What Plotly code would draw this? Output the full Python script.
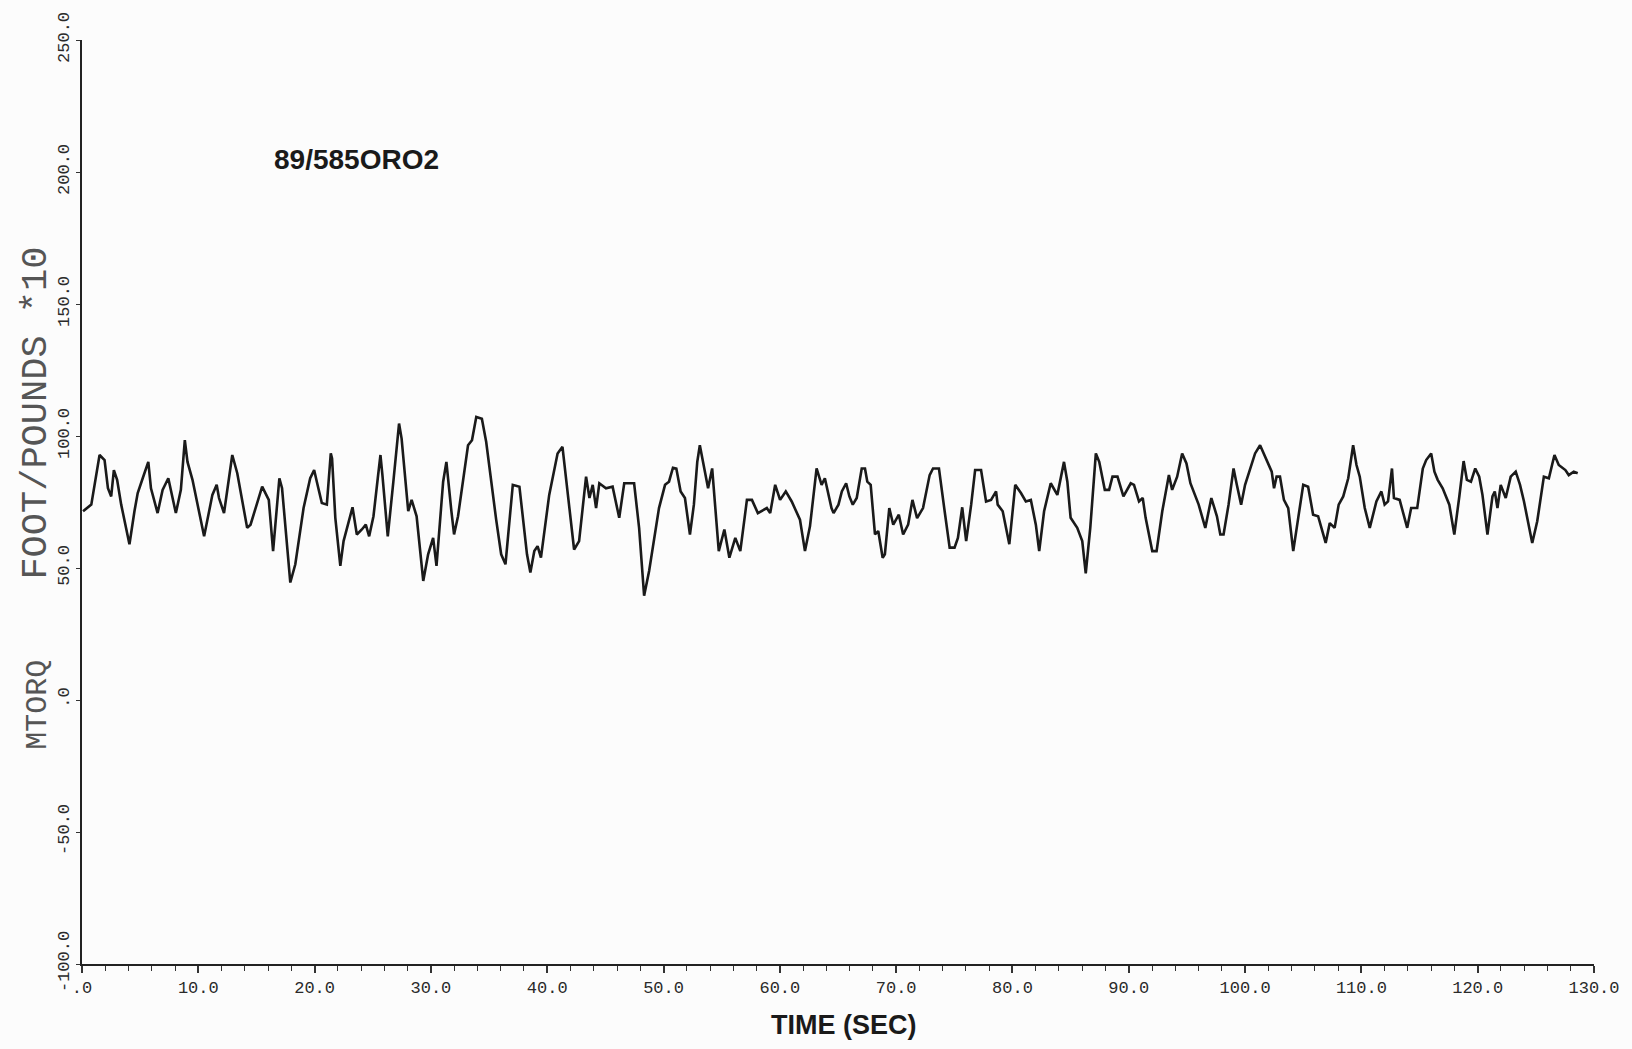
import plotly.graph_objects as go

# ---- data (time in seconds, torque in foot/pounds x10) ----
time_s = [
    0.09, 0.80, 1.51, 1.94, 2.23, 2.51, 2.74, 3.02, 3.37, 4.08, 4.51, 4.79, 5.22, 5.70, 5.93,
    6.50, 6.93, 7.42, 8.07, 8.50, 8.84, 9.07, 9.50, 10.5, 11.21, 11.58, 11.78, 12.21, 12.92,
    13.35, 14.2, 14.49, 15.49, 16.06, 16.43, 16.71, 16.97, 17.2, 17.91, 18.34, 19.05, 19.62,
    19.96, 20.19, 20.62, 21.05, 21.39, 21.5, 21.78, 22.21, 22.49, 23.26, 23.63, 24.06, 24.4,
    24.69, 25.06, 25.43, 25.66, 25.83, 26.11, 26.29, 26.77, 27.26, 27.48, 28.05, 28.34, 28.77,
    29.34, 29.76, 30.19, 30.48, 31.05, 31.33, 31.76, 31.99, 32.33, 32.9, 33.19, 33.53, 33.9,
    34.38, 34.75, 35.61, 36.04, 36.41, 37.04, 37.61, 38.03, 38.26, 38.55, 38.89, 39.17, 39.46,
    40.17, 40.6, 40.89, 41.31, 41.6, 42.31, 42.74, 43.34, 43.63, 43.91, 44.2, 44.48, 45.05,
    45.62, 46.19, 46.62, 47.47, 47.9, 48.33, 48.76, 49.61, 50.13, 50.47, 50.81, 51.1, 51.47,
    51.84, 52.27, 52.61, 52.9, 53.12, 53.55, 53.83, 54.18, 54.75, 55.23, 55.66, 56.17, 56.6,
    57.17, 57.6, 58.11, 58.88, 59.17, 59.6, 60.02, 60.51, 61.02, 61.73, 62.16, 62.59, 63.16,
    63.59, 63.87, 64.44, 64.62, 65.04, 65.33, 65.7, 65.98, 66.27, 66.61, 67.04, 67.32, 67.52,
    67.81, 68.18, 68.46, 68.84, 69.03, 69.41, 69.75, 70.23, 70.6, 71.03, 71.4, 71.8, 72.31,
    72.88, 73.17, 73.68, 74.17, 74.6, 75.02, 75.31, 75.68, 76.02, 76.45, 76.79, 77.3, 77.73,
    78.16, 78.59, 78.73, 79.16, 79.73, 80.24, 80.73, 81.15, 81.58, 82.01, 82.3, 82.72, 83.29,
    83.86, 84.43, 84.72, 85.0, 85.57, 86.0, 86.3, 86.69, 87.17, 87.46, 87.94, 88.31, 88.6,
    89.03, 89.54, 90.17, 90.45, 90.88, 91.2, 91.45, 92.02, 92.39, 92.88, 93.45, 93.73, 94.16,
    94.59, 94.96, 95.3, 96.01, 96.58, 97.1, 97.58, 97.87, 98.15, 98.58, 99.01, 99.29, 99.66,
    100.0, 100.43, 100.86, 101.29, 101.72, 102.29, 102.49, 102.71, 103.0, 103.34, 103.71,
    104.14, 104.57, 105.0, 105.42, 105.85, 106.28, 106.93, 107.28, 107.7, 108.05, 108.44,
    108.87, 109.29, 109.58, 109.86, 110.29, 110.72, 111.29, 111.72, 112.0, 112.29, 112.63,
    112.8, 113.29, 113.66, 113.94, 114.28, 114.8, 115.28, 115.57, 116.0, 116.28, 116.56,
    116.99, 117.56, 117.99, 118.42, 118.79, 119.07, 119.42, 119.79, 120.13, 120.41, 120.84,
    121.27, 121.47, 121.7, 121.98, 122.41, 122.84, 123.27, 123.64, 123.98, 124.69, 125.12,
    125.69, 126.12, 126.6, 126.97, 127.54, 127.83, 128.26, 128.6,
]
mtorq = [
    71.5, 74, 92.8, 90.9, 80.2, 77.1, 87.1, 83.4, 74, 59, 71.5, 78.4, 84, 90.2, 80.2,
    70.8, 79.6, 84, 70.8, 79.6, 98.4, 90.2, 83.4, 62, 77.7, 81.5, 76.5, 70.8, 92.8,
    85.9, 65.2, 66.4, 80.8, 75.8, 56.4, 70.2, 84, 80.2, 44.5, 51.4, 72.7, 84,
    87.1, 82.7, 74.6, 74, 93.4, 91.5, 69, 50.8, 60.2, 73, 62.7, 64.6, 66.4,
    62, 69.6, 84, 92.8, 85.2, 68.9, 62, 82.7, 104.7, 99, 71.5, 75.8, 69.6,
    45.1, 55.2, 61.4, 50.8, 82.7, 90.2, 71.5, 62.7, 69.6, 88.4, 96.5, 98.4, 107.2,
    106.5, 97.8, 68.3, 55.2, 51.4, 81.5, 80.8, 64.6, 55.2, 48.3, 56.4, 58.3, 53.9,
    77.7, 87.7, 93.4, 95.9, 84.6, 57, 60.2, 84.6, 76.5, 81.5, 72.7, 82.1, 80.2,
    80.8, 69, 82.1, 82.1, 65.2, 39.5, 48.9, 72.7, 81.5, 82.7, 88, 87.7, 79,
    76.5, 62.7, 74, 90.2, 96.5, 87.1, 80.2, 87.7, 56.4, 64.6, 53.9, 61.4, 56.4,
    75.8, 75.8, 70.8, 72.7, 70.8, 81.5, 75.8, 79, 75.2, 68.3, 56.4, 65.8, 87.7,
    81.5, 84, 72.7, 70.8, 74, 79, 82.1, 77.1, 74, 76.5, 87.7, 87.7, 82.7,
    81.5, 62.7, 64, 53.9, 55.2, 72.7, 66.4, 70.2, 62.7, 66.4, 75.8, 68.9, 72.7,
    85.2, 87.7, 87.7, 71.5, 57.7, 57.7, 61.4, 73, 60.2, 74, 87.1, 87.1, 75.2,
    75.8, 79, 74, 71.5, 59, 81.5, 78.4, 75.2, 75.8, 66.4, 56.4, 71.5, 82.1,
    77.7, 90.2, 82.7, 69, 65.2, 60.2, 48, 65.2, 93.4, 90.2, 79.6, 79.6, 84.6,
    84.6, 77.1, 82.1, 81.5, 75.2, 76.5, 69, 56.4, 56.4, 71.5, 85.2, 79.6, 84.6,
    93.4, 89.6, 82.1, 74, 65.2, 76.5, 69.6, 62.7, 62.7, 74, 87.7, 81.5, 74,
    81.5, 87.7, 93.4, 96.5, 92.1, 86.5, 80.2, 84.6, 84.6, 75.8, 72.7,
    56.4, 69, 81.5, 80.8, 70.2, 69.6, 59.5, 67, 65.2, 74, 77.1,
    84, 96.5, 89, 84.6, 72.7, 65.2, 75.2, 79, 74, 75.2, 87.7,
    76.5, 75.8, 70.2, 65.2, 72.7, 72.7, 87.7, 90.9, 93.4, 86.5, 83.4,
    80.2, 74, 62.7, 77.1, 90.5, 83.4, 82.7, 87.7, 84.6, 77.7, 62.7,
    77.1, 79, 72.7, 81.5, 76.5, 84.6, 86.5, 81.5, 75.2, 59.5, 67.7,
    84.6, 84, 92.8, 89, 87.1, 85.2, 86.5, 85.9,
]

x_tick_vals = [0, 10, 20, 30, 40, 50, 60, 70, 80, 90, 100, 110, 120, 130]
x_tick_text = [".0", "10.0", "20.0", "30.0", "40.0", "50.0", "60.0", "70.0",
               "80.0", "90.0", "100.0", "110.0", "120.0", "130.0"]
y_tick_vals = [-100, -50, 0, 50, 100, 150, 200, 250]
y_tick_text = ["-100.0", "-50.0", ".0", "50.0", "100.0", "150.0", "200.0", "250.0"]

run_label = "89/585ORO2"
x_title = "TIME (SEC)"
y_title_a = "MTORQ"
y_title_b = "FOOT/POUNDS *10"

W, H = 1632, 1049
ML, MR, MT, MB = 82, 30, 31, 85
PW, PH = W - ML - MR, H - MT - MB

def px_x(p):
    return (p - ML) / PW

def px_y(p):
    return (H - MB - p) / PH

mono = "Liberation Mono, DejaVu Sans Mono, monospace"
sans = "Liberation Sans, Arial, sans-serif"

fig = go.Figure()
fig.add_trace(go.Scatter(
    x=time_s, y=mtorq, mode="lines",
    line=dict(color="#1a1a1a", width=2.6),
    showlegend=False, hoverinfo="skip",
))

fig.update_layout(
    width=W, height=H,
    margin=dict(l=ML, r=MR, t=MT, b=MB),
    paper_bgcolor="#fcfcfc", plot_bgcolor="#fcfcfc",
    showlegend=False,
    xaxis=dict(
        range=[0, 130], showgrid=False, zeroline=False,
        showline=True, linecolor="#222", linewidth=1.8,
        tickmode="array", tickvals=x_tick_vals, ticktext=x_tick_text,
        ticks="outside", ticklen=7, tickwidth=1.5, tickcolor="#333",
        minor=dict(dtick=2, ticks="outside", ticklen=5, tickwidth=1.3, tickcolor="#333", showgrid=False),
        tickfont=dict(family=mono, size=17, color="#2a2a2a"),
        ticklabelstandoff=0,
    ),
    yaxis=dict(
        range=[-100, 250], showgrid=False, zeroline=False,
        showline=True, linecolor="#222", linewidth=1.8,
        tickmode="array", tickvals=y_tick_vals, ticktext=y_tick_text,
        ticks="outside", ticklen=4, tickwidth=1.3, tickcolor="#333",
        tickangle=-90,
        tickfont=dict(family=mono, size=17, color="#2a2a2a"),
        ticklabelstandoff=0,
    ),
    annotations=[
        dict(text=run_label, xref="paper", yref="paper", x=px_x(273), y=px_y(152),
             xanchor="left", yanchor="middle", showarrow=False,
             font=dict(family=sans, size=28, color="#1a1a1a", weight="bold")),
        dict(text=x_title, xref="paper", yref="paper", x=px_x(848), y=px_y(1026),
             xanchor="center", yanchor="middle", showarrow=False,
             font=dict(family=sans, size=27, color="#1a1a1a", weight="bold")),
        dict(text=y_title_a, xref="paper", yref="paper", x=px_x(37), y=px_y(702),
             xanchor="center", yanchor="middle", showarrow=False, textangle=-90,
             font=dict(family=mono, size=30, color="#555")),
        dict(text=y_title_b, xref="paper", yref="paper", x=px_x(36), y=px_y(408),
             xanchor="center", yanchor="middle", showarrow=False, textangle=-90,
             font=dict(family=mono, size=37, color="#555")),
    ],
)

fig.write_html("out.html")
